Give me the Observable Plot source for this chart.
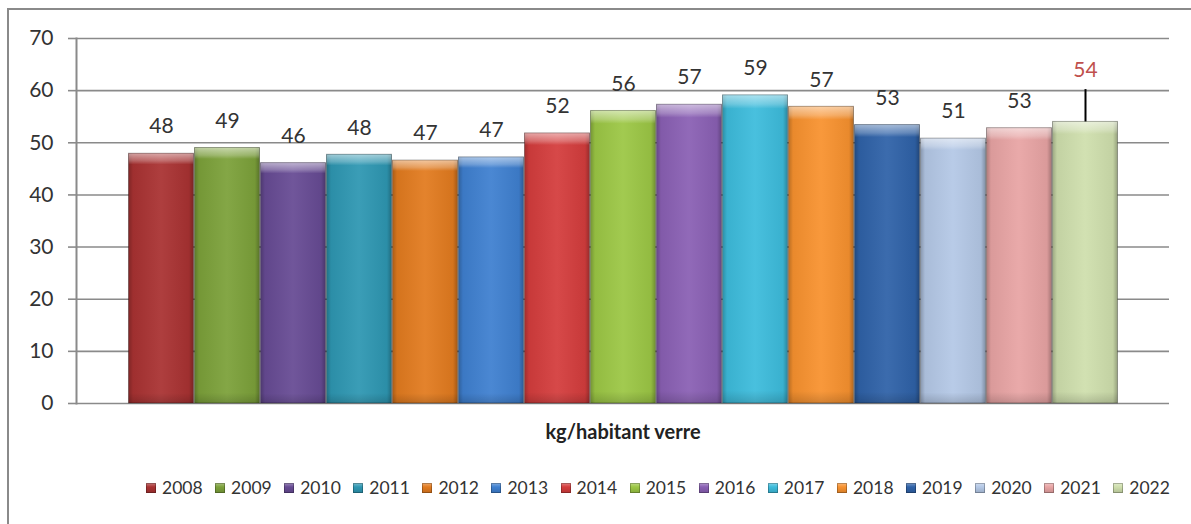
<!DOCTYPE html>
<html>
<head>
<meta charset="utf-8">
<script src="https://cdn.jsdelivr.net/npm/d3@7"></script>
<script src="https://cdn.jsdelivr.net/npm/@observablehq/plot@0.6"></script>
<style>
  html, body { margin: 0; padding: 0; background: #fff; overflow: hidden; width: 1191px; height: 524px; }
  body { font-family: Lato, "Open Sans", sans-serif; position: relative; }
  #border { position: absolute; left: 7px; top: 8px; width: 1400px; height: 700px; border-left: 2px solid #8a8a8a; border-top: 2px solid #8a8a8a; box-sizing: border-box; }
  #chart { position: absolute; left: 0; top: 0; }
  #legend { position: absolute; left: 146px; top: 477px; display: flex; }
  .item { width: 69.1px; display: flex; align-items: center; font-size: 17.5px; color: #333; white-space: nowrap; }
  .sw { width: 10px; height: 10px; margin-right: 6px; box-shadow: inset 0 0 0 1px rgba(0,0,0,0.25); }
</style>
</head>
<body>
<div id="border"></div>
<div id="chart"></div>
<div id="legend"></div>
<script>
const years = [2008, 2009, 2010, 2011, 2012, 2013, 2014, 2015, 2016, 2017, 2018, 2019, 2020, 2021, 2022];
const values = [47.9, 49.0, 46.1, 47.7, 46.6, 47.2, 51.8, 56.1, 57.3, 59.1, 56.9, 53.4, 50.8, 52.8, 54.0];
const labels = ["48", "49", "46", "48", "47", "47", "52", "56", "57", "59", "57", "53", "51", "53", "54"];
const colors = ["#a93232", "#7ca13a", "#674b94", "#2e97b2", "#e27b1f", "#3f80d0", "#d43d3d", "#9cc745",
                "#8a60b4", "#3dbcdc", "#f8922f", "#2f62a8", "#b4c8e6", "#e8a4a4", "#cfdfad"];
const yTicks = [0, 10, 20, 30, 40, 50, 60, 70];
const highlightYear = "2022";
const errorUpper = 60.2;
const axisTitle = "kg/habitant verre";

const data = years.map((y, i) => ({ year: String(y), value: values[i], label: labels[i] }));

const svg = Plot.plot({
  width: 1191,
  height: 460,
  marginTop: 38,
  marginBottom: 57,
  marginLeft: 76,
  marginRight: 22,
  style: { background: "transparent", fontFamily: "Lato, 'Open Sans', sans-serif", color: "#333", overflow: "visible" },
  x: { type: "band", domain: years.map(String), paddingInner: 0, paddingOuter: 0.72, axis: null },
  y: { domain: [0, 70], axis: null },
  color: { domain: years.map(String), range: colors },
  marks: [
    Plot.gridY(yTicks, { stroke: "#8a8a8a", strokeOpacity: 1, strokeWidth: 1.6 }),
    Plot.axisY(yTicks, { tickSize: 8, tickPadding: 15, fontSize: 21, stroke: "#8a8a8a", strokeWidth: 1.6, label: null, fill: "#333" }),
    Plot.frame({ anchor: "left", stroke: "#8a8a8a", strokeWidth: 2 }),
    Plot.barY(data, { x: "year", y: "value", fill: "year", insetLeft: 0.5, insetRight: 0.5 }),
    Plot.barY(data, { x: "year", y: "value", fill: "url(#hshade)", insetLeft: 0.5, insetRight: 0.5 }),
    Plot.barY(data, { x: "year", y: "value", fill: "url(#vshade)", stroke: "rgba(0,0,0,0.3)", strokeWidth: 1, insetLeft: 0.5, insetRight: 0.5 }),
    Plot.ruleX(data, { filter: d => d.year === highlightYear, x: "year", y1: "value", y2: () => errorUpper, stroke: "#000", strokeWidth: 2 }),
    Plot.text(data, { filter: d => d.year !== highlightYear, x: "year", y: "value", text: "label", dy: -27, fontSize: 21, fill: "#333" }),
    Plot.text(data, { filter: d => d.year === highlightYear, x: "year", y: () => errorUpper, text: "label", dy: -19, fontSize: 21, fill: "#c0504d" }),
    Plot.text([axisTitle], { frameAnchor: "bottom", dy: 35, fontWeight: "bold", fontSize: 20, fill: "#222" })
  ]
});

const defs = d3.select(svg).insert("defs", ":first-child");
const h = defs.append("linearGradient").attr("id", "hshade").attr("x1", 0).attr("x2", 1).attr("y1", 0).attr("y2", 0);
[[0, "#000", 0.25], [0.07, "#000", 0.06], [0.5, "#fff", 0.06], [0.93, "#000", 0.06], [1, "#000", 0.28]]
  .forEach(([o, c, a]) => h.append("stop").attr("offset", o).attr("stop-color", c).attr("stop-opacity", a));
const v = defs.append("linearGradient").attr("id", "vshade").attr("x1", 0).attr("x2", 0).attr("y1", 0).attr("y2", 1);
[[0, "#fff", 0.55], [0.03, "#fff", 0.25], [0.045, "#fff", 0], [0.96, "#000", 0], [1, "#000", 0.15]]
  .forEach(([o, c, a]) => v.append("stop").attr("offset", o).attr("stop-color", c).attr("stop-opacity", a));

document.getElementById("chart").appendChild(svg);

const legend = document.getElementById("legend");
years.forEach((y, i) => {
  const item = document.createElement("div");
  item.className = "item";
  const sw = document.createElement("span");
  sw.className = "sw";
  sw.style.background = `linear-gradient(to bottom, rgba(255,255,255,0.35), rgba(255,255,255,0) 40%, rgba(0,0,0,0.15)), ${colors[i]}`;
  const t = document.createElement("span");
  t.textContent = String(y);
  item.appendChild(sw);
  item.appendChild(t);
  legend.appendChild(item);
});
</script>
</body>
</html>
